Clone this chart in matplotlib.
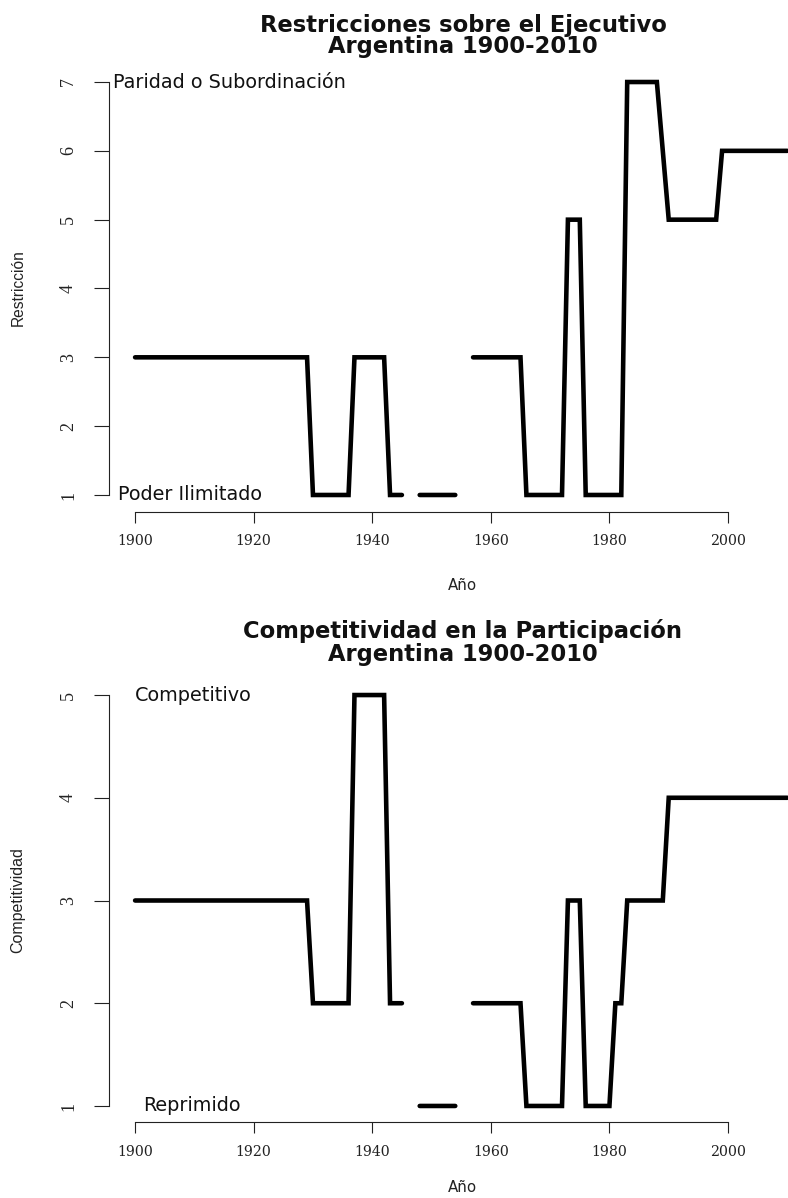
import numpy as np
import matplotlib.pyplot as plt

W, H = 788, 1198

years = np.arange(1900, 2011)
nan = np.nan

# Restricciones sobre el Ejecutivo (xconst), one value per year
xconst = [3, 3, 3, 3, 3, 3, 3, 3, 3, 3,      # 1900s
          3, 3, 3, 3, 3, 3, 3, 3, 3, 3,      # 1910s
          3, 3, 3, 3, 3, 3, 3, 3, 3, 3,      # 1920s
          1, 1, 1, 1, 1, 1, 1, 3, 3, 3,      # 1930s
          3, 3, 3, 1, 1, 1, nan, nan, 1, 1,  # 1940s
          1, 1, 1, 1, 1, nan, nan, 3, 3, 3,  # 1950s
          3, 3, 3, 3, 3, 3, 1, 1, 1, 1,      # 1960s
          1, 1, 1, 5, 5, 5, 1, 1, 1, 1,      # 1970s
          1, 1, 1, 7, 7, 7, 7, 7, 7, 6,      # 1980s
          5, 5, 5, 5, 5, 5, 5, 5, 5, 6,      # 1990s
          6, 6, 6, 6, 6, 6, 6, 6, 6, 6, 6]   # 2000-2010

# Competitividad en la Participacion (parcomp)
parcomp = [3, 3, 3, 3, 3, 3, 3, 3, 3, 3,
           3, 3, 3, 3, 3, 3, 3, 3, 3, 3,
           3, 3, 3, 3, 3, 3, 3, 3, 3, 3,
           2, 2, 2, 2, 2, 2, 2, 5, 5, 5,
           5, 5, 5, 2, 2, 2, nan, nan, 1, 1,
           1, 1, 1, 1, 1, nan, nan, 2, 2, 2,
           2, 2, 2, 2, 2, 2, 1, 1, 1, 1,
           1, 1, 1, 3, 3, 3, 1, 1, 1, 1,
           1, 2, 2, 3, 3, 3, 3, 3, 3, 3,
           4, 4, 4, 4, 4, 4, 4, 4, 4, 4,
           4, 4, 4, 4, 4, 4, 4, 4, 4, 4, 4]

xticks = [1900, 1920, 1940, 1960, 1980, 2000]


def box(left, right, top, bottom):
    return [left / W, 1 - bottom / H, (right - left) / W, (bottom - top) / H]


def fx(px):
    return px / W


def fy(py):
    return 1 - py / H


fig = plt.figure(figsize=(W / 100, H / 100), dpi=100)


def panel(rect, vals, ymin, ymax, top_txt, bot_txt, top_x, bot_x):
    ax = fig.add_axes(rect)
    ax.plot(years, vals, color='black', lw=3.3, solid_capstyle='round',
            solid_joinstyle='miter')
    ext = 0.04 * (ymax - ymin)
    ax.set_xlim(1895.6, 2014.4)
    ax.set_ylim(ymin - ext, ymax + ext)
    for s in ['top', 'right']:
        ax.spines[s].set_visible(False)
    ax.spines['left'].set_bounds(ymin, ymax)
    ax.spines['bottom'].set_bounds(1900, 2000)
    for s in ['left', 'bottom']:
        ax.spines[s].set_linewidth(0.8)
        ax.spines[s].set_color('#222222')
    ax.set_xticks(xticks)
    ax.set_xticklabels([str(t) for t in xticks], family='DejaVu Serif',
                       fontsize=10.2, color='#222222')
    ax.set_yticks(range(ymin, ymax + 1))
    ax.set_yticklabels([str(t) for t in range(ymin, ymax + 1)],
                       family='Liberation Serif', fontsize=13, rotation=90,
                       va='center', color='#222222')
    ax.tick_params(axis='x', length=8, width=0.8, pad=8, color='#222222')
    ax.tick_params(axis='y', length=11, width=0.8, pad=12, color='#222222')
    ax.text(top_x, ymax, top_txt, ha='left', va='center', fontsize=13.9,
            family='DejaVu Sans', color='#111111')
    ax.text(bot_x, ymin, bot_txt, ha='left', va='center', fontsize=13.9,
            family='DejaVu Sans', color='#111111')
    return ax


panel(box(109, 813.4, 65.5, 511.5), xconst, 1, 7,
      'Paridad o Subordinación', 'Poder Ilimitado', 1896.3, 1897.1)
panel(box(109, 813.4, 678.6, 1122.4), parcomp, 1, 5,
      'Competitivo', 'Reprimido', 1900.0, 1901.3)

# titles
tkw = dict(ha='center', va='baseline', fontsize=16.3, fontweight='bold',
           family='DejaVu Sans', color='#111111')
fig.text(fx(463), fy(31.7), 'Restricciones sobre el Ejecutivo', **tkw)
fig.text(fx(463), fy(53), 'Argentina 1900-2010', **tkw)
fig.text(fx(463), fy(638), 'Competitividad en la Participación', **tkw)
fig.text(fx(463), fy(661.5), 'Argentina 1900-2010', **tkw)

# axis labels
fig.text(fx(462), fy(585), 'Año', ha='center', va='center', fontsize=10.8,
         family='DejaVu Sans', color='#222222')
fig.text(fx(462), fy(1188), 'Año', ha='center', va='center', fontsize=10.8,
         family='DejaVu Sans', color='#222222')
fig.text(fx(18), fy(288), 'Restricción', ha='center', va='center', rotation=90,
         fontsize=11.2, family='Liberation Sans', color='#222222')
fig.text(fx(18), fy(900), 'Competitividad', ha='center', va='center', rotation=90,
         fontsize=11.5, family='Liberation Sans', color='#222222')

fig.savefig('out.png', dpi=100)
